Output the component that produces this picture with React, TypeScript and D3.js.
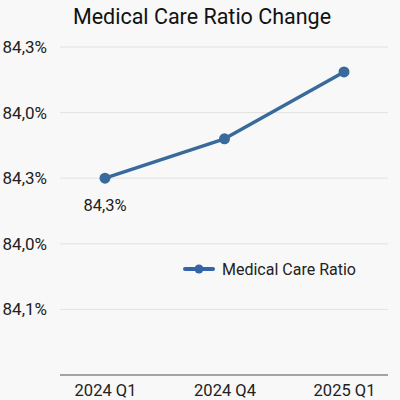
import React, { useEffect, useRef } from 'react';
import * as d3 from 'd3';

// categories on the x axis
const quarters = ['2024 Q1', '2024 Q4', '2025 Q1'];
// series values, in gridline units (label text below is as printed on the chart)
const ratioValues = [3.0, 3.6, 4.62];
// y tick positions and the labels printed next to them
const yTickValues = [5, 4, 3, 2, 1];
const yTickLabels = ['84,3%', '84,0%', '84,3%', '84,0%', '84,1%'];
// the single data label shown under the first point
const pointLabels = ['84,3%', '', ''];
const seriesName = 'Medical Care Ratio';

const App: React.FC = () => {
  const svgRef = useRef<SVGSVGElement>(null);

  useEffect(() => {
    if (!svgRef.current) return;
    const root = d3.select(svgRef.current);
    root.selectAll('*').remove();

    const W = 400;
    const H = 400;
    const margin = { top: 47, right: 12, bottom: 25, left: 60 };
    const innerW = W - margin.left - margin.right;
    const innerH = H - margin.top - margin.bottom;
    const font = 'Roboto, "Noto Sans", sans-serif';
    const lineColor = '#386a9c';

    root.append('rect').attr('width', W).attr('height', H).attr('fill', '#f8f8f8');

    // Title
    root
      .append('text')
      .attr('x', W / 2 + 2)
      .attr('y', 24)
      .attr('text-anchor', 'middle')
      .attr('font-family', font)
      .attr('font-size', 21.5)
      .attr('fill', '#111')
      .text('Medical Care Ratio Change');

    const g = root.append('g').attr('transform', `translate(${margin.left},${margin.top})`);

    const x = d3.scalePoint<string>().domain(quarters).range([45, innerW - 44]);
    const y = d3.scaleLinear().domain([0, 5]).range([innerH, 0]);

    // Gridlines
    g.selectAll('.grid')
      .data(yTickValues)
      .enter()
      .append('line')
      .attr('x1', 0)
      .attr('x2', innerW)
      .attr('y1', d => y(d))
      .attr('y2', d => y(d))
      .attr('stroke', '#e2e2e2')
      .attr('stroke-width', 1);

    // Y axis labels
    const yAxis = g
      .append('g')
      .call(
        d3
          .axisLeft(y)
          .tickValues(yTickValues)
          .tickSize(0)
          .tickPadding(13)
          .tickFormat((_, i) => yTickLabels[i])
      );
    yAxis.select('.domain').remove();
    yAxis
      .selectAll('text')
      .attr('font-family', font)
      .attr('font-size', 17)
      .attr('fill', '#222');

    // X axis line across the whole plot
    g.append('line')
      .attr('x1', 0)
      .attr('x2', innerW)
      .attr('y1', innerH)
      .attr('y2', innerH)
      .attr('stroke', '#888')
      .attr('stroke-width', 1.5);

    const xAxis = g
      .append('g')
      .attr('transform', `translate(0,${innerH})`)
      .call(d3.axisBottom(x).tickSize(0).tickPadding(9));
    xAxis.select('.domain').remove();
    xAxis
      .selectAll('text')
      .attr('font-family', font)
      .attr('font-size', 16.5)
      .attr('fill', '#222');

    // Line
    const line = d3
      .line<number>()
      .x((_, i) => x(quarters[i]) as number)
      .y(d => y(d));

    g.append('path')
      .datum(ratioValues)
      .attr('d', line)
      .attr('fill', 'none')
      .attr('stroke', lineColor)
      .attr('stroke-width', 3.5)
      .attr('stroke-linejoin', 'round');

    g.selectAll('.pt')
      .data(ratioValues)
      .enter()
      .append('circle')
      .attr('cx', (_, i) => x(quarters[i]) as number)
      .attr('cy', d => y(d))
      .attr('r', 5.5)
      .attr('fill', lineColor);

    // Data labels
    g.selectAll('.lbl')
      .data(ratioValues)
      .enter()
      .append('text')
      .attr('x', (_, i) => x(quarters[i]) as number)
      .attr('y', d => y(d) + 33)
      .attr('text-anchor', 'middle')
      .attr('font-family', font)
      .attr('font-size', 16.5)
      .attr('fill', '#222')
      .text((_, i) => pointLabels[i]);

    // Legend
    const legend = root.append('g').attr('transform', 'translate(185,269)');
    legend
      .append('line')
      .attr('x1', 0)
      .attr('x2', 28)
      .attr('stroke', '#3463a8')
      .attr('stroke-width', 4)
      .attr('stroke-linecap', 'round');
    legend.append('circle').attr('cx', 14).attr('r', 4.5).attr('fill', '#3463a8');
    legend
      .append('text')
      .attr('x', 37)
      .attr('y', 6)
      .attr('font-family', font)
      .attr('font-size', 16)
      .attr('fill', '#222')
      .text(seriesName);
  }, []);

  return (
    <svg
      ref={svgRef}
      width={400}
      height={400}
      style={{ display: 'block', position: 'absolute', left: 0, top: 0 }}
    />
  );
};

export default App;
